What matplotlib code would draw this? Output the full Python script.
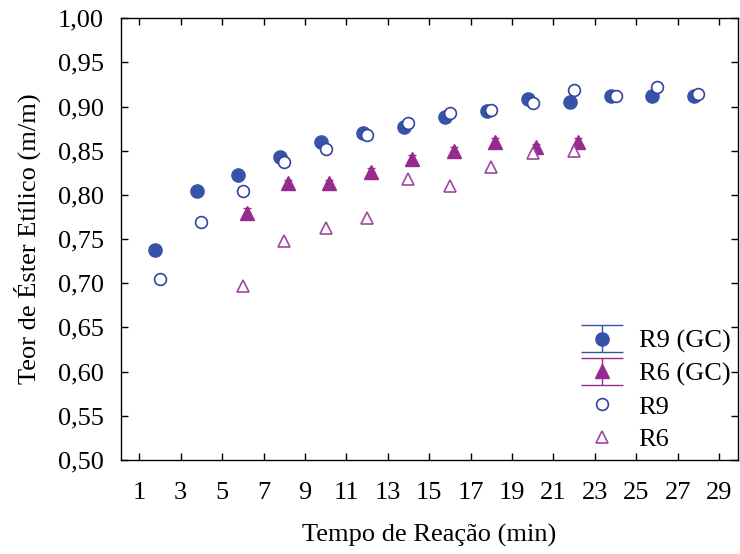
import matplotlib
matplotlib.use("Agg")
import matplotlib.pyplot as plt
from matplotlib.container import ErrorbarContainer
from matplotlib.legend_handler import HandlerErrorbar
from matplotlib.ticker import FuncFormatter
import numpy as np

# Reaction time (min) and ethyl ester content (m/m)
t_r9 = [2, 4, 6, 8, 10, 12, 14, 16, 18, 20, 22, 24, 26, 28]
r9_gc = [0.738, 0.804, 0.823, 0.843, 0.860, 0.870, 0.877, 0.888, 0.895, 0.909, 0.905, 0.912, 0.912, 0.912]
r9_gc_err = [0.004, 0.004, 0.004, 0.004, 0.004, 0.004, 0.004, 0.004, 0.004, 0.004, 0.004, 0.004, 0.004, 0.004]
r9 = [0.705, 0.769, 0.804, 0.837, 0.852, 0.868, 0.881, 0.893, 0.896, 0.904, 0.919, 0.912, 0.922, 0.914]

t_r6 = [6, 8, 10, 12, 14, 16, 18, 20, 22]
r6_gc = [0.780, 0.813, 0.813, 0.826, 0.841, 0.850, 0.860, 0.854, 0.860]
r6_gc_err = [0.005, 0.004, 0.004, 0.004, 0.004, 0.004, 0.004, 0.004, 0.004]
r6 = [0.697, 0.748, 0.763, 0.774, 0.818, 0.810, 0.832, 0.847, 0.850]

x_ticks = list(range(1, 30, 2))
y_ticks = [0.50, 0.55, 0.60, 0.65, 0.70, 0.75, 0.80, 0.85, 0.90, 0.95, 1.00]

blue = "#3553a8"
purple = "#952b8f"
blue_open = "#3345a0"
purple_open = "#a045a0"

plt.rcParams["font.family"] = ["Liberation Serif", "DejaVu Serif"]

fig = plt.figure(figsize=(7.4, 5.54), dpi=100)
ax = fig.add_axes([0.163, 0.170, 0.834, 0.797])

# small horizontal dodge so overlapping series stay readable
dodge_gc_r9 = -0.22
dodge_gc_r6 = 0.18

ax.errorbar(np.array(t_r9) + dodge_gc_r9, r9_gc, yerr=r9_gc_err, fmt="o",
            color=blue, ms=9.5, capsize=3, elinewidth=1, zorder=3)
ax.errorbar(np.array(t_r6) + dodge_gc_r6, r6_gc, yerr=r6_gc_err, fmt="^",
            color=purple, ms=9.5, capsize=3, elinewidth=1, zorder=3)
h_r9, = ax.plot(t_r9, r9, "o", ms=8.5, mfc="white", mec=blue_open, mew=1.2,
                ls="none", zorder=4)
h_r6, = ax.plot(t_r6, r6, "^", ms=9, mfc="white", mec=purple_open, mew=1.2,
                ls="none", zorder=4)

# legend handles for the GC series with wide caps
p_r9 = ax.errorbar([np.nan], [np.nan], yerr=[np.nan], fmt="o", color=blue,
                   ms=9.5, capsize=15, elinewidth=1)
p_r6 = ax.errorbar([np.nan], [np.nan], yerr=[np.nan], fmt="^", color=purple,
                   ms=9.5, capsize=15, elinewidth=1)

ax.legend([p_r9, p_r6, h_r9, h_r6], ["R9 (GC)", "R6 (GC)", "R9", "R6"],
          loc="lower right", frameon=False, fontsize=19,
          handler_map={ErrorbarContainer: HandlerErrorbar(yerr_size=0.5)},
          handlelength=1.9, handletextpad=0.45, labelspacing=0.34,
          borderaxespad=0.0, bbox_to_anchor=(1.005, -0.004))

ax.set_xlim(0.1, 29.9)
ax.set_ylim(0.5, 1.0)
ax.set_xticks(x_ticks)
ax.set_yticks(y_ticks)
ax.yaxis.set_major_formatter(FuncFormatter(lambda v, p: f"{v:.2f}".replace(".", ",")))
ax.tick_params(direction="in", top=True, right=True, labelsize=19,
               length=5, width=1)
ax.tick_params(axis="x", pad=16)
ax.tick_params(axis="y", pad=12)
for s in ax.spines.values():
    s.set_linewidth(1.0)

ax.set_xlabel("Tempo de Reação (min)", fontsize=19, labelpad=14)
ax.set_ylabel("Teor de Éster Etílico (m/m)", fontsize=19, labelpad=12)

fig.savefig("out.png", dpi=100)
